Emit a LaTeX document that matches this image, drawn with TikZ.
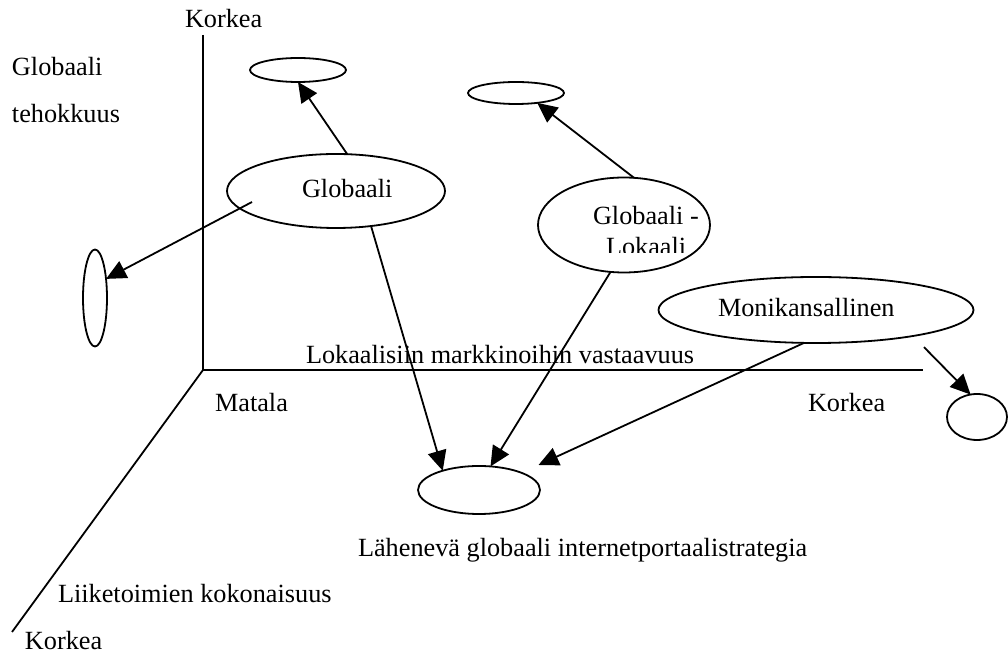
\documentclass[tikz,border=0pt]{standalone}
\usepackage{fontspec}
\setmainfont{Liberation Serif}
\usetikzlibrary{shapes.geometric,arrows.meta}
\begin{document}
\begin{tikzpicture}[x=0.75pt,y=-0.75pt,
  line width=1.35pt,
  oval/.style={draw,ellipse,inner sep=0pt,outer sep=0pt},
  txt/.style={inner sep=0pt,outer sep=0pt,anchor=base west,font=\fontsize{19.7}{23}\selectfont},
  arr/.style={-{Triangle[length=15pt,width=14pt]}}]
\useasboundingbox (0,0) rectangle (1008,655);

% axes
\coordinate (O) at (203,370);
\coordinate (ytop) at (203,35);
\coordinate (xend) at (923,370);
\coordinate (zend) at (12,632);
\draw (ytop) -- (O) -- (xend);
\draw (O) -- (zend);

% axis labels
\node[txt] (ykorkea) at (185,28) {Korkea};
\node[txt] (ylab1) at (12,76) {Globaali};
\node[txt] (ylab2) at (12,123) {tehokkuus};
\node[txt] (xlab) at (306,364) {Lokaalisiin markkinoihin vastaavuus};
\node[txt] (xmatala) at (215,412) {Matala};
\node[txt] (xkorkea) at (808,412) {Korkea};
\node[txt] (zlab) at (58,603) {Liiketoimien kokonaisuus};
\node[txt] (zkorkea) at (25,650) {Korkea};
\node[txt] (botlab) at (358,557) {Lähenevä globaali internetportaalistrategia};

% strategy ellipses
\node[oval,minimum width=163.5pt,minimum height=55.5pt] (glob) at (336,191) {};
\node[txt] (globT) at (302,198) {Globaali};

\node[oval,minimum width=129pt,minimum height=71.25pt] (gl) at (624,225) {};
\node[txt] (glT1) at (593,225) {Globaali -};
\begin{scope}
  \clip (540,150) rectangle (715,253);
  \node[txt] (glT2) at (606,256) {Lokaali};
\end{scope}

\node[oval,minimum width=236.25pt,minimum height=49.5pt] (moni) at (816,310) {};
\node[txt] (moniT) at (718,317) {Monikansallinen};

% target ellipses
\node[oval,minimum width=72pt,minimum height=18pt] (topL) at (298,70) {};
\node[oval,minimum width=72pt,minimum height=16.5pt] (topM) at (516,93) {};
\node[oval,minimum width=18pt,minimum height=72.75pt] (leftV) at (95,298) {};
\node[oval,minimum width=45pt,minimum height=34.5pt] (rightE) at (977,417) {};
\node[oval,minimum width=91.5pt,minimum height=36pt] (bot) at (479,490) {};

% arrows
\coordinate (globIn) at (252,202);
\draw[arr] (glob.73) -- (topL.south);
\draw[arr] (globIn) -- (leftV.60);
\draw[arr] (glob.-45) -- (bot.152);
\draw[arr] (gl.78) -- (topM.-25);
\draw[arr] (gl.-106) -- (bot.64);
\draw[arr,shorten >=14pt] (moni.-110) -- (bot.22);
\draw[arr,shorten <=11.7pt] (moni.-15) -- (rightE.106);
\end{tikzpicture}
\end{document}
